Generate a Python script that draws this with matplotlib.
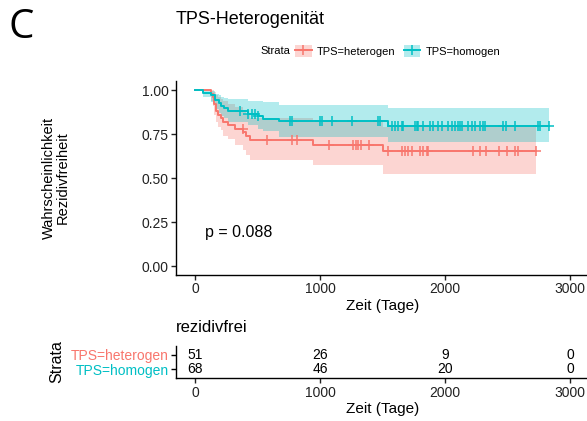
import matplotlib
matplotlib.use("Agg")
import matplotlib.pyplot as plt
from matplotlib.lines import Line2D
from matplotlib.patches import Patch
import numpy as np

plt.rcParams['font.family'] = ['Liberation Sans', 'DejaVu Sans']

###################### Data ######################

RED = '#F8766D'
TEAL = '#00BFC4'

# TPS=heterogen
het_t = [0, 130, 145, 155, 170, 185, 210, 227, 265, 320, 385, 410, 440, 945, 1505]
het_s = [1.0, 0.98, 0.96, 0.92, 0.88, 0.86, 0.84, 0.82, 0.80, 0.78, 0.76, 0.74, 0.715, 0.69, 0.655]
het_up = [1.0, 1.0, 1.0, 0.99, 0.97, 0.96, 0.95, 0.935, 0.92, 0.905, 0.885, 0.865, 0.84, 0.82, 0.79]
het_lo = [1.0, 0.94, 0.91, 0.86, 0.82, 0.79, 0.77, 0.74, 0.72, 0.69, 0.66, 0.63, 0.60, 0.574, 0.523]
het_end = 2730
het_cens = [381, 579, 773, 813, 1075, 1267, 1288, 1307, 1325, 1395, 1547, 1653, 1680,
            1707, 1733, 1800, 1827, 1853, 1867, 2227, 2280, 2328, 2435, 2493, 2560, 2587, 2728]

# TPS=homogen
hom_t = [0, 60, 130, 160, 190, 210, 230, 260, 420, 500, 540, 670, 1545]
hom_s = [1.0, 0.985, 0.970, 0.941, 0.926, 0.911, 0.896, 0.881, 0.866, 0.851, 0.836, 0.822, 0.795]
hom_up = [1.0, 1.0, 0.995, 0.98, 0.97, 0.962, 0.955, 0.95, 0.94, 0.935, 0.93, 0.915, 0.90]
hom_lo = [1.0, 0.96, 0.93, 0.89, 0.87, 0.85, 0.84, 0.82, 0.80, 0.78, 0.765, 0.735, 0.705]
hom_end = 2830
hom_cens = [360, 427, 453, 480, 507, 760, 773, 1000, 1013, 1093, 1253, 1467, 1480, 1573,
            1600, 1627, 1653, 1667, 1760, 1773, 1787, 1827, 1880, 1907, 1947, 1973, 2027,
            2053, 2080, 2107, 2120, 2133, 2187, 2213, 2240, 2280, 2307, 2320, 2467, 2488,
            2560, 2747, 2760, 2830]

# Risk table
risk_times = [0, 1000, 2000, 3000]
risk_het = [51, 26, 9, 0]
risk_hom = [68, 46, 20, 0]
strata_labels = ['TPS=heterogen', 'TPS=homogen']

x_ticks = [0, 1000, 2000, 3000]
y_ticks = [0.0, 0.25, 0.5, 0.75, 1.0]

####################### Helpers ############################

def step_at(times, vals, t):
    i = np.searchsorted(times, t, side='right') - 1
    return np.asarray(vals)[i]

def draw_km(ax, t, s, up, lo, end, cens, col):
    tt = list(t) + [end]
    ax.fill_between(tt, list(lo) + [lo[-1]], list(up) + [up[-1]], step='post',
                    color=col, alpha=0.3, lw=0)
    ax.step(tt, list(s) + [s[-1]], where='post', color=col, lw=1.4)
    ax.plot(cens, step_at(t, s, cens), ls='none', marker='+', ms=7, mew=1.1, color=col)

W, H = 587, 421
fig = plt.figure(figsize=(W / 100, H / 100), dpi=100)

def box(l, r, top, bot):
    return [l / W, 1 - bot / H, (r - l) / W, (bot - top) / H]

########################## Main plot ##################################
ax = fig.add_axes(box(176.25, 588.75, 81.2, 274.8))
draw_km(ax, het_t, het_s, het_up, het_lo, het_end, het_cens, RED)
draw_km(ax, hom_t, hom_s, hom_up, hom_lo, hom_end, hom_cens, TEAL)
ax.set_xlim(-150, 3150)
ax.set_ylim(-0.05, 1.05)
ax.set_xticks(x_ticks)
ax.set_yticks(y_ticks)
ax.set_yticklabels(['%.2f' % v for v in y_ticks])
for sp in ['top', 'right']:
    ax.spines[sp].set_visible(False)
for sp in ['left', 'bottom']:
    ax.spines[sp].set_linewidth(1.0)
ax.tick_params(labelsize=10, length=3.5, width=1.0, colors='#222222', pad=2)
ax.set_xlabel('Zeit (Tage)', fontsize=11, labelpad=2)
ax.text(82, 0.19, 'p = 0.088', fontsize=11.5, ha='left', va='center')

fig.text(56 / W, 1 - 178 / H, 'Wahrscheinlichkeit\nRezidivfreiheit', rotation=90,
         ha='center', va='center', fontsize=10.5, linespacing=1.0)
fig.text(176 / W, 1 - 20 / H, 'TPS-Heterogenität', fontsize=13, ha='left', va='center')
fig.text(21 / W, 1 - 38 / H, 'C', fontsize=29, ha='center', va='baseline',
         family=['Open Sans', 'DejaVu Sans'])

# legend
fig.text(290 / W, 1 - 51 / H, 'Strata', fontsize=8, ha='right', va='center')
handles = [(Patch(facecolor=RED, alpha=0.3, lw=0),
            Line2D([], [], color=RED, lw=1.4, marker='+', ms=7, mew=1.1)),
           (Patch(facecolor=TEAL, alpha=0.3, lw=0),
            Line2D([], [], color=TEAL, lw=1.4, marker='+', ms=7, mew=1.1))]
fig.legend(handles, strata_labels, loc='center left', bbox_to_anchor=(295 / W, 1 - 51 / H),
           ncol=2, frameon=False, fontsize=8, handlelength=1.5, handleheight=1.4,
           handletextpad=0.5, columnspacing=0.7, borderpad=0, borderaxespad=0)

########################## Risk table ##################################
rx = fig.add_axes(box(176.25, 588.75, 346, 378))
rx.set_xlim(-150, 3150)
rx.set_ylim(0.36, 2.64)
for x, a, b in zip(risk_times, risk_het, risk_hom):
    rx.text(x, 2, str(a), ha='center', va='center', fontsize=10)
    rx.text(x, 1, str(b), ha='center', va='center', fontsize=10)
rx.set_xticks(x_ticks)
rx.set_yticks([2, 1])
rx.set_yticklabels(strata_labels)
for lab, col in zip(rx.get_yticklabels(), [RED, TEAL]):
    lab.set_color(col)
for sp in ['top', 'right']:
    rx.spines[sp].set_visible(False)
for sp in ['left', 'bottom']:
    rx.spines[sp].set_linewidth(1.0)
rx.tick_params(axis='x', labelsize=10, length=3.5, width=1.0, colors='#222222', pad=2)
rx.tick_params(axis='y', labelsize=10, length=3.5, width=1.0, pad=2)
rx.set_xlabel('Zeit (Tage)', fontsize=11, labelpad=2)
fig.text(176 / W, 1 - 328 / H, 'rezidivfrei', fontsize=12, ha='left', va='center')
fig.text(57 / W, 1 - 362 / H, 'Strata', rotation=90, fontsize=11.5, ha='center', va='center')

fig.savefig('out.png', dpi=100)
